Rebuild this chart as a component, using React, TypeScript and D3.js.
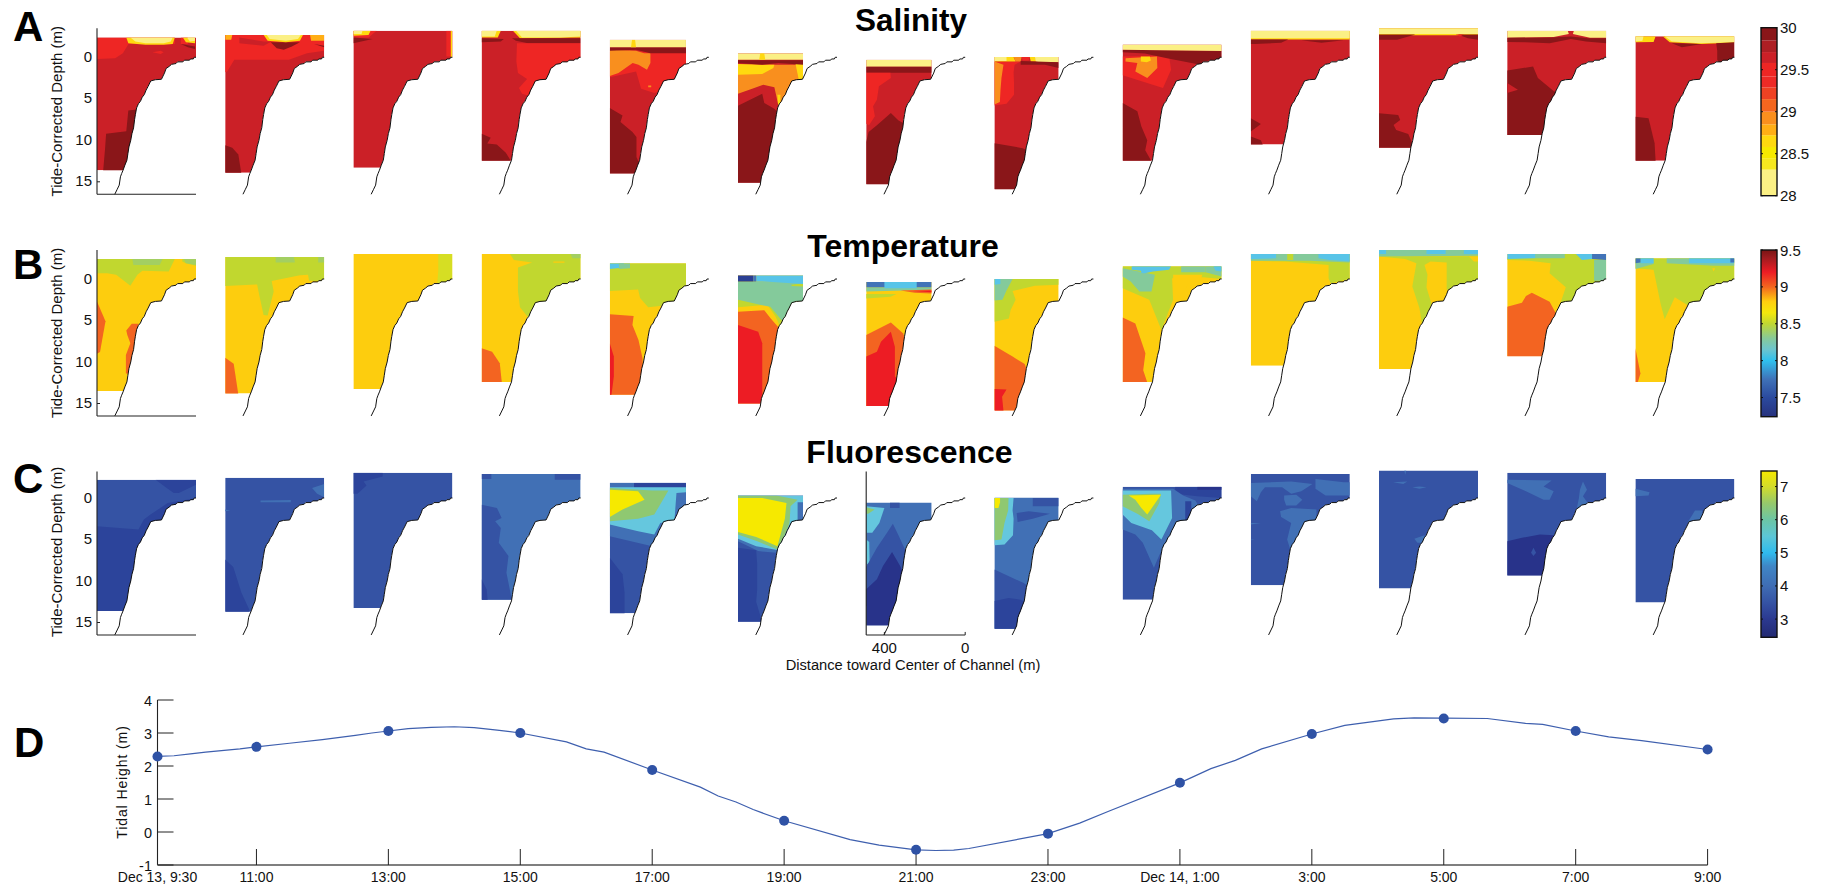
import React from "react";
import * as d3 from "d3";

type Pt = [number, number];
type Layer = [number, Pt[]];

// ---------- shared bathymetry: distance toward channel centre (m), depth (m)
const bathyDistance = [0, 9, 13, 27, 32, 57, 65, 91, 99, 121, 133, 148, 156, 171, 201, 224, 237, 247, 256, 266, 275, 285, 294, 300, 304, 309, 317, 323, 332, 337, 342, 352, 361, 368, 374, 380, 390, 402];
const bathyDepth = [0, 0, 0.2, 0.2, 0.35, 0.35, 0.55, 0.55, 0.75, 0.85, 1.1, 1.35, 1.9, 2.65, 2.7, 2.85, 3.5, 3.95, 4.5, 4.8, 5.3, 5.6, 6.1, 6.9, 7.5, 8.5, 9.2, 10, 10.8, 11.6, 12.4, 13.0, 13.6, 14.0, 14.4, 15.4, 15.9, 16.5];

// ---------- section outline per cast
const rightEdge = [0, 0, 0, 0, 113, 168, 166, 172, 0, 0, 0, 0, 0];
const salinityTop = [-2.4, -2.7, -3.2, -3.2, -2.1, -0.5, 0.3, -0.05, -1.55, -3.2, -3.5, -3.2, -2.55];
const salinityBottom = [13.6, 13.9, 13.3, 12.45, 14.0, 15.1, 15.3, 15.9, 12.45, 10.5, 10.9, 9.35, 12.45];
const temperatureTop = [-2.4, -2.65, -3, -3, -1.9, -0.45, 0.35, 0, -1.55, -3, -3.5, -3, -2.5];
const temperatureBottom = [13.5, 13.8, 13.25, 12.4, 13.95, 15, 15.3, 15.85, 12.4, 10.45, 10.85, 9.3, 12.4];
const fluorescenceTop = [-2.2, -2.45, -3.05, -2.9, -1.85, -0.3, 0.55, -0.05, -1.35, -2.9, -3.3, -3.05, -2.3];
const fluorescenceBottom = [13.6, 13.7, 13.25, 12.25, 13.9, 14.9, 15.35, 15.75, 12.25, 10.5, 10.9, 9.35, 12.6];

// ---------- salinity
const sP = 28.1, sG = 28.65, sA = 28.8, sO = 28.95, sR = 29.5, sM = 29.6, sD = 29.95;
const salinityBase = [sM, sM, sM, sM, sM, sM, sM, sM, sM, sM, sM, sM, sM];
const salinityThresholds = [28.31, 28.44, 28.58, 28.72, 28.85, 29.0, 29.15, 29.29, 29.42, 29.58, 29.71, 29.85];
const salinityColors = ["#FBF085", "#F6E81F", "#F7EA00", "#FFD90F", "#FFAE15", "#F98F1E", "#F4661F", "#EF4223", "#EE2A26", "#EE2624", "#CB2027", "#AD1F24", "#8A1619"];
const salinityLayers: Layer[][] = [
  [
    [sR, [[490, -2.4], [105, -2.4], [105, -1.6], [334, -1.6], [362, -0.5], [400, 0.1], [490, 0.2]]],
    [sR, [[75, -2.4], [40, -2.4], [40, -1.6], [75, -1.6]]],
    [sG, [[345, -2.4], [105, -2.4], [115, -1.6], [160, -1.5], [250, -1.5], [335, -1.7]]],
    [sP, [[325, -2.4], [115, -2.4], [125, -1.9], [160, -1.7], [250, -1.7], [300, -1.9]]],
    [sG, [[65, -2.4], [5, -2.4], [5, -1.7], [50, -1.8]]],
    [sP, [[45, -2.4], [5, -2.4], [5, -2.0], [30, -1.9]]],
    [sD, [[75, -1.6], [5, -1.3], [5, -1.0], [40, -1.2]]],
    [sR, [[215, -0.6], [175, -0.8], [160, -0.6], [175, -0.4]]],
    [sD, [[445, 9.2], [345, 8.9], [335, 6.4], [295, 6.3], [270, 10], [330, 13.8], [460, 13.8], [450, 11]]],
  ],
  [
    [sR, [[490, -2.7], [0, -2.7], [0, -0.8], [85, -0.5], [175, 0.3], [445, 0.3], [480, 1.7], [490, 1.8]]],
    [sM, [[420, -2.4], [300, -1.9], [260, -1.9], [300, -1.4], [420, -1.7]]],
    [sD, [[265, -1.8], [120, -1.8], [160, -1.3], [200, -0.9], [235, -1.1]]],
    [sG, [[300, -2.7], [105, -2.7], [120, -2], [190, -1.8], [280, -2]]],
    [sP, [[285, -2.7], [115, -2.7], [130, -2.2], [190, -2], [270, -2.2]]],
    [sA, [[490, -2.7], [455, -2.7], [460, -2.1], [490, -2.1]]],
    [sA, [[70, -2.7], [0, -2.7], [0, -2.0], [65, -2.0]]],
    [sD, [[50, -1.6], [0, -1.4], [0, -1.2]]],
    [sD, [[490, 10.6], [455, 10.9], [425, 11.7], [410, 14], [490, 14]]],
  ],
  [
    [sR, [[490, -3.2], [375, -3.2], [415, -2.4], [490, -2.4]]],
    [sG, [[490, -3.2], [405, -3.2], [415, -2.7], [490, -2.6]]],
    [sP, [[490, -3.2], [445, -3.2], [450, -2.8], [490, -2.8]]],
    [sD, [[490, -2.4], [395, -2.2], [490, -1.7]]],
    [sR, [[30, -3.2], [0, -3.2], [0, -0.1], [30, -0.1]]],
    [sG, [[8, -3.2], [0, -3.2], [0, 0], [8, 0]]],
  ],
  [
    [sG, [[490, -3.2], [395, -3.2], [410, -2.4], [490, -2.4]]],
    [sP, [[490, -3.2], [415, -3.2], [425, -2.5], [490, -2.5]]],
    [sG, [[335, -3.2], [0, -3.2], [0, -2.4], [300, -2.3]]],
    [sP, [[320, -3.2], [0, -3.2], [0, -2.5], [100, -2.4], [290, -2.4]]],
    [sD, [[490, -2.3], [380, -2.2], [395, -1.9], [490, -1.8]]],
    [sD, [[340, -2.3], [0, -2.3], [0, -1.7], [260, -1.7], [320, -2.0]]],
    [sR, [[315, -1.7], [0, -1.7], [0, 0.3], [100, 3.0], [260, 4.6], [290, 4.4], [305, 3.7], [265, 2.6], [310, 1.9], [318, 0.5]]],
    [sD, [[490, 9.2], [445, 9.7], [462, 10.4], [415, 10.5], [370, 11.5], [345, 12.5], [490, 12.5]]],
  ],
  [
    [sR, [[490, -0.7], [113, -0.7], [113, 1], [150, 3.5], [270, 4.3], [335, 3.8], [360, 1.7], [490, 2.4]]],
    [sO, [[490, -0.9], [360, -0.8], [320, -0.5], [289, -0.5], [289, 0.7], [306, 1.5], [348, 0.9], [377, 0.7], [447, 1.9], [490, 2.25]]],
    [sO, [[300, 3.4], [285, 3.4], [285, 3.6], [300, 3.6]]],
    [sD, [[490, -1.2], [113, -1.2], [113, -0.5], [290, -0.5], [360, -0.9], [490, -0.8]]],
    [sP, [[490, -2.1], [113, -2.1], [113, -1.2], [490, -1.2]]],
    [sG, [[380, -2.1], [365, -2.1], [360, -1.2], [385, -1.2]]],
    [sD, [[490, 6.1], [427, 7], [437, 7.8], [378, 9], [358, 9.6], [358, 12], [340, 13], [330, 14.1], [490, 14.1]]],
  ],
  [
    [sO, [[490, 0.9], [168, 0.9], [168, 2.7], [205, 2.7], [230, 4.6], [290, 5.8], [310, 3.6], [365, 3.3], [420, 3.8], [490, 4.4]]],
    [sG, [[490, 0.8], [370, 0.9], [310, 0.9], [315, 1.3], [370, 2.0], [490, 2.1]]],
    [sG, [[205, 0.8], [168, 0.8], [168, 2.6], [190, 2.6]]],
    [sG, [[295, 4.5], [280, 4.5], [280, 5.7], [292, 5.7]]],
    [sD, [[490, 0.35], [168, 0.35], [168, 0.9], [290, 0.7], [370, 0.9], [490, 0.7]]],
    [sP, [[490, -0.5], [168, -0.5], [168, 0.3], [490, 0.3]]],
    [sG, [[380, -0.5], [360, -0.5], [355, 0.3], [385, 0.3]]],
    [sD, [[490, 5.85], [370, 4.4], [360, 5.5], [310, 6.2], [290, 6.7], [200, 7], [200, 15.3], [490, 15.3]]],
  ],
  [
    [sP, [[490, 0.3], [166, 0.3], [166, 1.15], [490, 1.15]]],
    [sD, [[490, 1.15], [166, 1.15], [166, 1.85], [490, 1.85]]],
    [sR, [[490, 1.85], [370, 1.85], [368, 2.5], [427, 3.5], [437, 5.1], [456, 5.9], [447, 7.1], [476, 8.2], [490, 8]]],
    [sD, [[490, 10.2], [478, 9], [437, 8.2], [368, 6.7], [330, 7.6], [300, 8], [200, 8], [200, 15.4], [490, 15.4]]],
  ],
  [
    [sR, [[490, 0.5], [360, 0.5], [390, 0.9], [395, 1.8], [393, 3], [393, 4.5], [430, 5.6], [490, 5.8]]],
    [sO, [[490, 0.5], [445, 0.9], [455, 2.5], [460, 4], [463, 5.4], [490, 5.7]]],
    [sG, [[490, -0.05], [395, -0.05], [385, 0.5], [490, 0.5]]],
    [sP, [[490, -0.05], [430, -0.05], [430, 0.45], [490, 0.45]]],
    [sO, [[395, -0.05], [355, -0.05], [360, 0.5], [385, 0.5]]],
    [sR, [[355, -0.05], [315, -0.05], [320, 0.4], [350, 0.4]]],
    [sG, [[315, -0.05], [290, -0.05], [280, 0.5], [310, 0.5]]],
    [sP, [[290, -0.05], [172, -0.05], [172, 0.6], [270, 0.6], [285, 0.5]]],
    [sD, [[360, 0.45], [172, 0.6], [172, 1.3], [240, 0.9], [360, 0.9]]],
    [sD, [[490, 10.35], [350, 10.95], [300, 11.5], [300, 16], [490, 16]]],
  ],
  [
    [sR, [[490, -0.1], [260, -0.2], [250, 1.5], [290, 3.7], [490, 2.15]]],
    [sO, [[475, 0.1], [320, -0.1], [318, 1.3], [368, 2.5], [427, 1.7], [417, 0.7], [476, 0.5]]],
    [sG, [[400, -0.1], [355, -0.1], [350, 0.4], [370, 0.6], [400, 0.5]]],
    [sD, [[490, -0.9], [0, -0.75], [0, 0.1], [90, 0.5], [105, 0.9], [270, 0.1], [380, -0.45], [490, -0.6]]],
    [sP, [[490, -1.55], [0, -1.55], [0, -0.75], [490, -0.9]]],
    [sD, [[490, 5.5], [417, 6.5], [397, 8.35], [368, 10], [378, 11.2], [348, 12.5], [490, 12.5]]],
  ],
  [
    [sG, [[490, -3.2], [0, -3.2], [0, -2.15], [490, -2.15]]],
    [sP, [[490, -3.2], [0, -3.2], [0, -2.3], [490, -2.3]]],
    [sD, [[490, -2.15], [305, -2.15], [340, -1.75], [470, -1.6], [490, -1.6]]],
    [sD, [[240, -2.05], [30, -2.05], [140, -1.75]]],
    [sD, [[490, 7.35], [440, 8.05], [490, 8.95]]],
    [sD, [[490, 9.55], [440, 10], [430, 10.6], [490, 10.6]]],
  ],
  [
    [sG, [[490, -3.5], [0, -3.5], [0, -2.65], [490, -2.65]]],
    [sP, [[490, -3.5], [0, -3.5], [0, -2.8], [250, -2.8], [490, -2.8]]],
    [sD, [[490, -2.75], [310, -2.75], [400, -2.1], [490, -2.1]]],
    [sD, [[100, -2.75], [0, -2.75], [0, -2.1], [50, -2.3]]],
    [sR, [[110, -2.75], [90, -2.5], [70, -2.75]]],
    [sD, [[490, 6.75], [395, 6.95], [385, 7.55], [418, 8.15], [405, 8.75], [345, 9.25], [325, 10.4], [330, 11], [490, 11]]],
  ],
  [
    [sP, [[490, -3.2], [190, -3.2], [185, -2.8], [260, -2.45], [490, -2.35]]],
    [sP, [[160, -3.2], [0, -3.2], [0, -2.35], [80, -2.35], [165, -2.8]]],
    [sD, [[490, -2.35], [270, -2.4], [175, -2.5], [90, -2.3], [0, -2.3], [0, -1.7], [100, -1.9], [175, -2.2], [280, -1.7], [400, -1.8], [490, -1.85]]],
    [sD, [[490, 1.6], [362, 1.1], [338, 2.5], [259, 4.1], [200, 4.5], [200, 9.4], [490, 9.4]]],
    [sM, [[490, 3.1], [437, 3.9], [490, 4.3]]],
  ],
  [
    [sG, [[490, -2.55], [390, -2.55], [400, -1.85], [490, -1.8]]],
    [sP, [[490, -2.55], [450, -2.55], [455, -2], [490, -1.9]]],
    [sG, [[355, -2.55], [0, -2.55], [0, -1.75], [170, -1.6], [320, -1.8]]],
    [sP, [[345, -2.55], [0, -2.55], [0, -1.8], [170, -1.7], [310, -1.9]]],
    [sD, [[90, -1.7], [0, -1.8], [0, 0.7], [75, 0.7], [85, 0.3], [85, -0.8]]],
    [sD, [[310, -1.7], [160, -1.6], [260, -1.2]]],
    [sD, [[490, 7.15], [425, 7.35], [395, 10.35], [390, 12.5], [490, 12.5]]],
  ],
];

// ---------- temperature
const tN = 7.5, tB = 7.7, tC = 8, tT = 8.25, tH = 8.4, tL = 8.5, tK = 8.65, tY = 8.8, tO = 9, tR = 9.2;
const temperatureBase = [tY, tY, tY, tY, tY, tY, tY, tY, tY, tY, tY, tY, tY];
const temperatureThresholds = [7.6, 7.85, 8.1, 8.33, 8.45, 8.55, 8.72, 8.9, 9.1, 9.3];
const temperatureColors = ["#2B3F93", "#4273B8", "#58C4E8", "#84CA9B", "#A3CF62", "#C1D72F", "#D6DE23", "#FDCD0E", "#F36421", "#ED1C24", "#9C1B1F"];
const temperatureLayers: Layer[][] = [
  [
    [tL, [[490, -2.4], [105, -2.4], [135, -0.9], [265, -1], [290, -0.5], [325, 0.8], [395, -0.5], [440, -0.7], [490, -0.7]]],
    [tL, [[68, -2.4], [0, -2.4], [0, -1.6], [50, -1.9], [68, -2.1]]],
    [tH, [[315, -2.4], [165, -2.4], [180, -1.7], [310, -1.7]]],
    [tH, [[60, -2.4], [0, -2.4], [0, -1.7], [50, -1.9]]],
    [tO, [[490, 2.7], [448, 5.1], [475, 8.8], [490, 9]]],
    [tO, [[345, 6.2], [318, 5.4], [285, 5.4], [300, 8.15], [330, 11.4], [347, 11.4], [347, 9.15], [325, 7.75], [340, 6.75]]],
  ],
  [
    [tL, [[490, -2.65], [0, -2.65], [0, 0.2], [75, 0.2], [80, -0.5], [120, -0.45], [260, 0.25], [250, 1.5], [280, 4.4], [300, 4.35], [320, 2.1], [332, 0.65], [490, 0.85]]],
    [tH, [[240, -2.65], [150, -2.65], [145, -2], [240, -2]]],
    [tH, [[30, -2.65], [0, -2.65], [0, -2], [30, -2]]],
    [tO, [[490, 9.5], [448, 10.2], [425, 13.9], [490, 13.9]]],
  ],
  [
    [tK, [[70, -3], [0, -3], [0, 0.5], [75, 0.5], [70, -1]]],
  ],
  [
    [tL, [[350, -3], [0, -3], [0, 1], [100, 3], [260, 4.6], [300, 3.4], [310, 1.5], [310, -1.4], [240, -2], [330, -2.3]]],
    [tY, [[135, -2.1], [80, -2.1], [80, -1.95], [135, -1.95]]],
    [tH, [[50, -3], [0, -3], [0, -2.5], [40, -2.5]]],
    [tO, [[490, 8.35], [438, 8.75], [400, 10.15], [390, 12.45], [490, 12.45]]],
  ],
  [
    [tL, [[490, -1.9], [113, -1.9], [113, 3], [220, 3.2], [300, 3.4], [340, 2.3], [350, 1.25], [490, 1.45]]],
    [tC, [[490, -1.9], [420, -1.9], [420, -1.4], [490, -1.2]]],
    [tT, [[445, -1.9], [390, -1.9], [390, -1.3], [445, -1.2]]],
    [tO, [[490, 4.25], [372, 4.45], [378, 5.55], [348, 7.35], [328, 9.55], [320, 14], [490, 14]]],
    [tR, [[490, 7.75], [470, 9.35], [470, 11.75], [482, 14], [490, 14]]],
  ],
  [
    [tL, [[490, 0.3], [168, 0.3], [168, 3], [205, 3], [250, 5.5], [280, 5.8], [305, 4.5], [345, 3.1], [490, 3.4]]],
    [tT, [[490, 0.3], [168, 0.3], [168, 2.65], [205, 2.65], [250, 4.9], [270, 5.1], [330, 3.35], [370, 3.15], [490, 2.5]]],
    [tL, [[225, 0.7], [168, 0.5], [168, 0.9], [225, 0.85]]],
    [tO, [[490, 3.95], [360, 3.75], [328, 4.75], [285, 5.95], [200, 8], [200, 15.1], [490, 15.1]]],
    [tR, [[490, 5.55], [390, 6.35], [370, 7.75], [370, 13.8], [380, 15.1], [490, 15.1]]],
    [tC, [[400, -0.45], [168, -0.45], [168, 0.6], [320, 0.35], [375, 0.3], [400, 0.3]]],
    [tN, [[490, -0.45], [415, -0.45], [415, 0.3], [490, 0.3]]],
    [tB, [[415, -0.45], [400, -0.45], [400, 0.3], [415, 0.3]]],
  ],
  [
    [tT, [[490, 1], [166, 1], [166, 1.3], [490, 1.5]]],
    [tB, [[490, 0.35], [166, 0.35], [166, 1], [490, 1]]],
    [tC, [[400, 0.35], [240, 0.35], [240, 1.1], [400, 1.1]]],
    [tL, [[490, 1.8], [340, 1.8], [370, 2.15], [490, 2.35]]],
    [tO, [[320, 1.4], [166, 1.25], [166, 1.75], [250, 1.65]]],
    [tR, [[260, 1.45], [166, 1.4], [166, 1.6]]],
    [tO, [[490, 6.75], [368, 5.25], [308, 6.55], [250, 10], [250, 15.4], [490, 15.4]]],
    [tR, [[490, 9.35], [437, 8.75], [417, 7.55], [368, 6.35], [348, 8.15], [348, 11.75], [250, 14], [250, 15.4], [490, 15.4]]],
  ],
  [
    [tL, [[490, 0], [172, 0], [172, 0.7], [290, 0.8], [400, 1.45], [385, 2.5], [410, 3.75], [418, 4.75], [490, 5.15]]],
    [tT, [[490, 0], [400, 0], [415, 0.7], [430, 1.4], [450, 2.5], [490, 2.6]]],
    [tC, [[490, 0], [460, 0], [460, 0.6], [490, 0.7]]],
    [tO, [[490, 8.05], [400, 9.35], [340, 10.25], [300, 13], [300, 15.9], [490, 15.9]]],
    [tR, [[490, 13.25], [430, 13.3], [452, 14.2], [445, 15.9], [490, 15.9]]],
  ],
  [
    [tL, [[490, -1.55], [0, -1.55], [0, 0], [90, -0.2], [245, -0.1], [240, 2.5], [298, 6.15], [358, 2.5], [490, 1.1]]],
    [tY, [[240, -0.5], [95, -0.5], [105, 0.2], [165, 0.5], [180, 1.3], [200, 2.8], [240, 2.4], [240, -0.1]]],
    [tT, [[490, -0.3], [450, 0.3], [407, 1.5], [347, 1.5], [330, -0.5], [490, -1.3]]],
    [tT, [[200, -1.55], [80, -1.55], [80, -0.8], [200, -0.8]]],
    [tT, [[80, -1.55], [0, -1.55], [0, -0.3], [80, -0.8]]],
    [tC, [[445, -1.55], [250, -1.55], [260, -1.1], [340, -0.9], [380, -0.7], [395, -0.7], [400, -1], [445, -1.1]]],
    [tC, [[40, -1.55], [0, -1.55], [0, -0.9], [30, -1]]],
    [tO, [[490, 4.65], [427, 5.35], [377, 8.95], [388, 11], [368, 12.45], [490, 12.45]]],
  ],
  [
    [tL, [[490, -3], [0, -3], [0, 0], [95, 0.5], [105, -0.1], [105, -1.7], [320, -2.1], [490, -2.2]]],
    [tT, [[490, -3], [0, -3], [0, -2.0], [200, -2.2], [320, -2.2], [490, -2.2]]],
    [tL, [[310, -3], [280, -3], [280, -2.3], [310, -2.3]]],
    [tC, [[490, -3], [365, -3], [365, -2.5], [490, -2.4]]],
    [tC, [[155, -3], [0, -3], [0, -2.1], [100, -2.3], [155, -2.5]]],
  ],
  [
    [tL, [[490, -2.75], [0, -2.75], [0, 1.3], [155, 1.3], [155, -2.0], [235, -2.1], [265, -1.7], [250, -0.5], [255, 1], [230, 3], [275, 5.8], [290, 3.5], [325, 0.9], [305, -1.9], [360, -2.4], [490, -2.7]]],
    [tT, [[490, -3.5], [0, -3.5], [0, -2.8], [490, -2.7]]],
    [tC, [[490, -3.5], [455, -3.5], [455, -3], [490, -3]]],
    [tC, [[255, -3.5], [160, -3.5], [160, -3], [255, -3]]],
    [tC, [[70, -3.5], [0, -3.5], [0, -3], [70, -3]]],
    [tY, [[45, -2.7], [0, -2.7], [0, -2.1], [20, -2.1]]],
  ],
  [
    [tL, [[400, -3], [0, -3], [0, 1], [150, 3], [235, 3.5], [200, 1], [280, -0.7], [275, -1.9], [380, -2.2], [490, -2.3], [490, -2.6]]],
    [tT, [[350, -3], [205, -3], [205, -2.5], [350, -2.5]]],
    [tT, [[60, -2.3], [0, -2.3], [0, 0.2], [60, 0.2]]],
    [tC, [[490, -3], [350, -3], [350, -2.5], [490, -2.4]]],
    [tC, [[150, -3], [70, -3], [70, -2.4], [120, -2.3]]],
    [tB, [[70, -3], [0, -3], [0, -2.3], [70, -2.4]]],
    [tO, [[490, 3.35], [417, 2.85], [397, 2.05], [368, 1.65], [280, 2.75], [250, 4.1], [200, 5], [200, 9.4], [490, 9.4]]],
  ],
  [
    [tL, [[490, -2.5], [0, -2.5], [0, 1], [170, 3], [225, 3.25], [295, 2.2], [345, 4.85], [365, 3], [400, -1.1], [490, -1.3]]],
    [tT, [[490, -2.5], [400, -2.5], [400, -1.8], [490, -1.2]]],
    [tC, [[465, -2.5], [400, -2.5], [400, -1.9], [465, -1.9]]],
    [tB, [[490, -2.5], [465, -2.5], [465, -2], [490, -1.9]]],
    [tT, [[335, -2.5], [0, -2.5], [0, -1.6], [100, -1.6], [335, -1.9]]],
    [tC, [[225, -2.5], [0, -2.5], [0, -1.9], [225, -1.9]]],
    [tB, [[20, -2.5], [0, -2.5], [0, -2], [20, -2]]],
    [tY, [[110, -1.3], [95, -1.3], [103, -0.9]]],
    [tO, [[490, 8.35], [465, 11.4], [478, 12.4], [490, 12.4]]],
  ],
];

// ---------- fluorescence
const fV = 2.8, fD = 3.2, fM = 3.7, fL = 4.3, fC = 5.3, fG = 6.3, fY = 7.2;
const fluorescenceBase = [fM, fM, fM, fL, fM, fM, fL, fL, fM, fM, fM, fM, fM];
const fluorescenceThresholds = [3.0, 3.45, 4.0, 4.7, 5.8, 6.8];
const fluorescenceColors = ["#28338A", "#2C449B", "#3553A4", "#4170B5", "#65C7DE", "#8FC871", "#F6E900"];
const fluorescenceLayers: Layer[][] = [
  [
    [fD, [[490, 3.4], [285, 3.8], [258, 2.6], [225, 2], [140, 0.6], [0, 0], [0, 14], [490, 14]]],
    [fD, [[200, -2.2], [0, -2.2], [0, -1.6], [85, -0.6], [110, -0.6], [150, -1.3]]],
  ],
  [
    [fD, [[490, 7.4], [450, 8.3], [410, 11.4], [370, 13.5], [370, 14], [490, 14]]],
    [fL, [[60, -1.2], [0, -1.7], [0, -0.1], [35, -0.5]]],
    [fL, [[315, 0.3], [165, 0.25], [165, 0.5], [315, 0.5]]],
    [fL, [[490, 1.4], [465, 1.5], [490, 1.6]]],
  ],
  [
    [fD, [[490, -3.05], [345, -3.05], [345, -2.6], [440, -2], [425, -1.5], [470, -0.5], [490, -0.5]]],
  ],
  [
    [fM, [[490, -2.9], [442, -2.9], [442, -2.3], [490, -2.3]]],
    [fM, [[128, -2.9], [0, -2.9], [0, -2.2], [128, -2.2]]],
    [fM, [[490, 0.8], [414, 1.2], [391, 2.4], [423, 2.8], [395, 3.6], [405, 5.4], [357, 7], [367, 9], [340, 12.3], [490, 12.3]]],
    [fD, [[490, 9.8], [465, 11], [460, 12.3], [490, 12.3]]],
  ],
  [
    [fD, [[370, -1.85], [113, -1.85], [113, -1.2], [370, -1.3]]],
    [fL, [[490, -1.85], [370, -1.85], [370, -1.2], [113, -1.2], [113, 0.8], [200, 3], [230, 4.4], [280, 5.8], [490, 4.6]]],
    [fC, [[490, -1.3], [113, -1.3], [113, -0.7], [160, -0.6], [170, 2.7], [240, 3], [270, 4.4], [350, 4], [490, 3.2]]],
    [fG, [[490, -1.2], [280, -0.9], [200, -0.9], [270, 2], [350, 2.5], [490, 2.8]]],
    [fY, [[490, -1], [350, -0.8], [318, 0.2], [427, 1.4], [490, 2.3]]],
    [fD, [[490, 7.2], [427, 9.2], [417, 11.4], [417, 14], [490, 14]]],
  ],
  [
    [fL, [[490, -0.3], [168, -0.3], [168, 3], [205, 3], [250, 6], [300, 6.6], [390, 6.4], [490, 5.2]]],
    [fC, [[490, -0.3], [168, -0.3], [168, 0.5], [195, 0.5], [195, 3], [230, 3], [290, 6.3], [400, 5.8], [490, 4.9]]],
    [fG, [[490, -0.3], [300, -0.3], [195, 0.2], [230, 1], [235, 3], [250, 4], [295, 6.2], [395, 5.2], [490, 4.4]]],
    [fY, [[490, 0], [370, 0], [250, 0.6], [258, 2.5], [295, 5.8], [400, 4.7], [490, 4.1]]],
    [fD, [[490, 6], [400, 6.3], [395, 8], [395, 11], [400, 12.5], [370, 15], [490, 15]]],
  ],
  [
    [fM, [[372, 0.55], [325, 0.55], [325, 1.2], [372, 1.2]]],
    [fC, [[490, 1], [400, 1.2], [425, 3], [460, 4.2], [490, 4.2]]],
    [fC, [[490, 5], [475, 5.3], [473, 7.8], [490, 8]]],
    [fG, [[490, 1.1], [448, 1.4], [480, 1.9], [490, 1.9]]],
    [fM, [[490, 8.3], [437, 6], [387, 4.2], [358, 3.1], [328, 4.6], [298, 6.2], [250, 8], [250, 13], [490, 13]]],
    [fV, [[490, 11], [437, 9.8], [407, 8.2], [362, 6.5], [322, 8.2], [250, 12], [250, 15.4], [490, 15.4]]],
  ],
  [
    [fC, [[490, 0], [395, 0], [400, 1.5], [395, 2.5], [398, 4.5], [440, 5.6], [490, 5.7]]],
    [fG, [[490, 0], [420, 0], [422, 1.5], [440, 3], [455, 5], [490, 5.1]]],
    [fY, [[490, 0], [462, 0], [462, 0.5], [470, 1.2], [490, 1.2]]],
    [fM, [[300, 0], [172, 0], [172, 1], [300, 1]]],
    [fM, [[380, 1.8], [320, 1.6], [215, 1.9], [300, 2.5], [375, 2.9]]],
    [fM, [[490, 8.6], [345, 10.25], [300, 11], [300, 15.8], [490, 15.8]]],
    [fD, [[490, 12.4], [420, 12.05], [360, 12.25], [300, 13], [300, 15.8], [490, 15.8]]],
  ],
  [
    [fD, [[230, -1.35], [0, -1.35], [0, 0], [120, -0.2], [230, -0.5]]],
    [fV, [[120, -1.35], [0, -1.35], [0, -1], [120, -1]]],
    [fL, [[490, -1.1], [240, -1.1], [190, -0.3], [130, 0.3], [100, 1.5], [175, 3], [190, 3.6], [290, 6], [310, 7], [335, 8.4], [390, 5.4], [427, 4.4], [490, 3.8]]],
    [fD, [[180, 0.4], [150, 0.4], [150, 2.9], [180, 2.9]]],
    [fC, [[490, -0.9], [250, -0.9], [245, 2.4], [298, 5], [345, 3.9], [447, 3], [490, 2]]],
    [fG, [[490, -0.4], [350, -0.5], [300, -0.5], [308, 0.6], [358, 2.8], [417, 1.9], [490, 1]]],
    [fY, [[460, -0.3], [300, -0.4], [368, 2], [397, 1.2], [427, 0.2]]],
  ],
  [
    [fL, [[490, -1.8], [290, -2], [185, -1.7], [240, -0.8], [290, -0.5], [335, -1.3], [420, -1.3], [440, -0.7], [460, 0.4], [490, -0.2]]],
    [fL, [[170, -2.3], [30, -1.9], [0, -1.9], [0, -0.3], [60, -0.3], [120, -0.3], [170, -1.1]]],
    [fL, [[325, -0.3], [265, -0.4], [235, 0.2], [265, 0.9], [315, 0.9], [325, 0.2]]],
    [fL, [[345, 1.6], [290, 1.2], [165, 1.4], [165, 2.8], [225, 3], [265, 5], [295, 6.2], [310, 5], [290, 3], [340, 2.3]]],
    [fL, [[490, 3], [440, 3], [490, 3.2]]],
    [fL, [[490, 5], [470, 5], [490, 5.1]]],
  ],
  [
    [fL, [[420, -1.9], [350, -2], [370, -1.7]]],
    [fL, [[325, -1.3], [290, -1.4], [255, -1.3], [290, -1.1]]],
    [fL, [[365, -3.3], [355, -3.3], [360, -2.8]]],
    [fL, [[315, 4.9], [265, 4.5], [260, 5.4], [300, 5.4]]],
  ],
  [
    [fL, [[490, -2.2], [270, -2.1], [310, -1.4], [260, -0.8], [280, 0.2], [310, 0.2], [397, -0.8], [490, -1.8]]],
    [fL, [[115, -2], [95, -1], [115, -0.2], [85, 0.8], [145, 1.2], [135, 0], [130, -1]]],
    [fV, [[490, 5.2], [417, 4.8], [328, 4.4], [259, 4.5], [200, 7], [200, 9.4], [490, 9.4]]],
    [fM, [[360, 6], [347, 6.6], [360, 7], [372, 6.6]]],
  ],
  [
    [fL, [[490, -1.1], [420, -0.7], [425, -0.3], [490, -0.2]]],
    [fL, [[195, 1.5], [160, 1.5], [160, 2.9], [230, 2.9]]],
  ],
];

// ---------- tide
const castHours = [9.5, 11, 13, 15, 17, 19, 21, 23, 25, 27, 29, 31, 33];
const castHeights = [2.29, 2.58, 3.06, 3.0, 1.88, 0.34, -0.54, -0.05, 1.49, 2.97, 3.44, 3.06, 2.5];
const tideHours = [9.5, 9.75, 10, 10.23, 10.75, 11, 11.5, 12, 12.5, 12.75, 13, 13.3, 13.65, 14, 14.3, 14.65, 15, 15.7, 16, 16.27, 17, 17.73, 18, 18.27, 18.53, 19, 20, 20.44, 21, 21.3, 21.57, 21.8, 23, 23.48, 23.92, 25, 25.47, 25.84, 26.24, 27, 27.5, 28.24, 28.55, 29, 29.66, 30.24, 30.5, 31, 31.5, 32, 33];
const tideMetres = [2.29, 2.31, 2.37, 2.42, 2.52, 2.58, 2.69, 2.8, 2.93, 3.0, 3.06, 3.13, 3.17, 3.19, 3.16, 3.09, 3.0, 2.73, 2.52, 2.42, 1.88, 1.36, 1.09, 0.91, 0.68, 0.34, -0.23, -0.4, -0.54, -0.56, -0.55, -0.5, -0.05, 0.27, 0.63, 1.49, 1.92, 2.17, 2.52, 2.97, 3.23, 3.43, 3.46, 3.45, 3.44, 3.29, 3.26, 3.06, 2.88, 2.77, 2.5];
const tideTickHours = [9.5, 11, 13, 15, 17, 19, 21, 23, 25, 27, 29, 31, 33];
const tideTickLabels = ["Dec 13, 9:30", "11:00", "13:00", "15:00", "17:00", "19:00", "21:00", "23:00", "Dec 14, 1:00", "3:00", "5:00", "7:00", "9:00"];
const tideYTicks = [4, 3, 2, 1, 0, -1];

// ---------- colour bars
const salinityBarTicks = [28, 28.5, 29, 29.5, 30];
const temperatureBarTicks = [7.5, 8, 8.5, 9, 9.5];
const temperatureStops = [7.24, 7.5, 7.75, 8, 8.15, 8.3, 8.5, 8.65, 8.8, 9, 9.2, 9.4, 9.5];
const temperatureStopColors = ["#27327E", "#2B4A9E", "#3F72B8", "#2FC0EE", "#6CC5CF", "#86C99A", "#C0D732", "#F4E80C", "#FFCF0F", "#F4661F", "#ED1C24", "#9C1B1F", "#7A1414"];
const fluorescenceBarTicks = [3, 4, 5, 6, 7];
const fluorescenceStops = [2.45, 3, 3.5, 4, 4.6, 5, 5.5, 6, 6.5, 7, 7.47];
const fluorescenceStopColors = ["#232A72", "#2B3990", "#3553A4", "#3F6DB4", "#3F86C6", "#2FBBEE", "#5CC6D6", "#6CC5A5", "#96C96B", "#D3DC2A", "#F6E900"];
const depthTicks = [0, 5, 10, 15];
const distanceTicks = [400, 0];

// ---------- layout
const FONT = "'Liberation Sans', Arial, sans-serif";
const COLUMN_X0 = 97, COLUMN_STEP = 128.2, PANEL_W = 99;
const DIST_MAX = 490, Z_PER_PX = 8.3;
const bathyAt = d3.scaleLinear<number>().domain(bathyDistance).range(bathyDepth).clamp(true);

function sectionOutline(top: number, bottom: number, right: number): Pt[] {
  const pts: Pt[] = [[DIST_MAX, top], [right, top], [right, bathyAt(right)]];
  bathyDistance.forEach((d, i) => {
    if (d > right && bathyDepth[i] < bottom) pts.push([d, bathyDepth[i]]);
  });
  let endD = 0;
  for (let i = 1; i < bathyDepth.length; i++) {
    if (bathyDepth[i] >= bottom) {
      const t = (bottom - bathyDepth[i - 1]) / (bathyDepth[i] - bathyDepth[i - 1]);
      endD = bathyDistance[i - 1] + t * (bathyDistance[i] - bathyDistance[i - 1]);
      break;
    }
  }
  pts.push([endD, bottom], [DIST_MAX, bottom]);
  return pts;
}

interface RowProps {
  id: string;
  zero: number;
  axisTop: number;
  top: number[];
  bottom: number[];
  base: number[];
  layers: Layer[][];
  color: (v: number) => string;
  showDistance?: boolean;
}

function Row({ id, zero, axisTop, top, bottom, base, layers, color, showDistance }: RowProps) {
  const y = d3.scaleLinear().domain([0, 16.5]).range([zero, zero + 16.5 * Z_PER_PX]);
  return (
    <g>
      {top.map((t, i) => {
        const left = COLUMN_X0 + COLUMN_STEP * i;
        const x = d3.scaleLinear().domain([DIST_MAX, 0]).range([left, left + PANEL_W]);
        const path = d3.line<Pt>().x((p) => x(p[0])).y((p) => y(p[1]));
        const outline = sectionOutline(t, bottom[i], rightEdge[i]);
        const bathy = d3.zip(bathyDistance, bathyDepth) as unknown as Pt[];
        const clipId = `${id}-${i}`;
        const hasAxis = i === 0 || (showDistance && i === 6);
        return (
          <g key={i}>
            {i === 0 &&
              depthTicks.map((d) => (
                <line key={d} x1={left} x2={left + 3} y1={y(d)} y2={y(d)} stroke="#222" />
              ))}
            <clipPath id={clipId}>
              <path d={path(outline)! + "Z"} />
            </clipPath>
            <g clipPath={`url(#${clipId})`}>
              <path d={path(outline)! + "Z"} fill={color(base[i])} />
              {layers[i].map(([v, pts], j) => (
                <path key={j} d={path(pts)! + "Z"} fill={color(v)} />
              ))}
            </g>
            <path d={path(bathy)!} fill="none" stroke="#111" strokeWidth={1} />
            {hasAxis && (
              <g stroke="#222" strokeWidth={1.1}>
                <line x1={left} x2={left} y1={y(axisTop)} y2={y(16.5)} />
                <line x1={left} x2={left + PANEL_W} y1={y(16.5)} y2={y(16.5)} />
              </g>
            )}
            {i === 0 &&
              depthTicks.map((d) => (
                <text key={d} x={92} y={y(d) + 4.5} textAnchor="end" fontFamily={FONT} fontSize={15} fill="#111">{d}</text>
              ))}
            {i === 0 && (
              <text transform={`translate(62,${y(6.5)}) rotate(-90)`} textAnchor="middle" fontFamily={FONT} fontSize={15} fill="#111">
                Tide-Corrected Depth (m)
              </text>
            )}
            {showDistance && i === 6 && (
              <g>
                {distanceTicks.map((d) => (
                  <g key={d}>
                    <line x1={x(d)} x2={x(d)} y1={y(16.5)} y2={y(16.5) - 3} stroke="#222" />
                    <text x={x(d)} y={653} textAnchor="middle" fontFamily={FONT} fontSize={15} fill="#111">{d}</text>
                  </g>
                ))}
                <text x={913} y={670} textAnchor="middle" fontFamily={FONT} fontSize={14.7} fill="#111">
                  Distance toward Center of Channel (m)
                </text>
              </g>
            )}
          </g>
        );
      })}
    </g>
  );
}

function BarFrame({ y, ticks, x0, x1 }: { y: d3.ScaleLinear<number, number>; ticks: number[]; x0: number; x1: number }) {
  const [bottom, top] = y.range();
  return (
    <g>
      <rect x={x0} y={top} width={x1 - x0} height={bottom - top} fill="none" stroke="#111" strokeWidth={1.4} />
      {ticks.map((t) => (
        <g key={t}>
          <line x1={x0} x2={x0 + 2} y1={y(t)} y2={y(t)} stroke="#111" />
          <line x1={x1} x2={x1 - 2} y1={y(t)} y2={y(t)} stroke="#111" />
          <text x={x1 + 3} y={y(t) + 5.5} fontFamily={FONT} fontSize={15} fill="#111">{t}</text>
        </g>
      ))}
    </g>
  );
}

export default function App() {
  const salColor = d3.scaleThreshold<number, string>().domain(salinityThresholds).range(salinityColors);
  const tempColor = d3.scaleThreshold<number, string>().domain(temperatureThresholds).range(temperatureColors);
  const fluColor = d3.scaleThreshold<number, string>().domain(fluorescenceThresholds).range(fluorescenceColors);

  const barX0 = 1761, barX1 = 1777;
  const salBar = d3.scaleLinear().domain([28, 30]).range([195.7, 27.7]);
  const tempBar = d3.scaleLinear().domain([7.24, 9.5]).range([416.7, 250]);
  const fluBar = d3.scaleLinear().domain([2.45, 7.47]).range([637.3, 471]);

  const salEdges = [28, ...salinityThresholds, 30];

  const tx = d3.scaleLinear().domain([9.5, 33]).range([157.5, 1707.6]);
  const ty = d3.scaleLinear().domain([-1, 4]).range([865, 700]);
  const tideLine = d3.line<number>().x((_, i) => tx(tideHours[i])).y((v) => ty(v));

  return (
    <svg width={1830} height={889} viewBox="0 0 1830 889" style={{ position: "absolute", left: 0, top: 0, display: "block", background: "#fff" }}>
      <defs>
        <linearGradient id="tempGrad" x1="0" y1="1" x2="0" y2="0">
          {temperatureStops.map((s, i) => (
            <stop key={i} offset={(s - 7.24) / (9.5 - 7.24)} stopColor={temperatureStopColors[i]} />
          ))}
        </linearGradient>
        <linearGradient id="fluGrad" x1="0" y1="1" x2="0" y2="0">
          {fluorescenceStops.map((s, i) => (
            <stop key={i} offset={(s - 2.45) / (7.47 - 2.45)} stopColor={fluorescenceStopColors[i]} />
          ))}
        </linearGradient>
      </defs>

      <Row id="sal" zero={57.3} axisTop={-3.5} top={salinityTop} bottom={salinityBottom} base={salinityBase} layers={salinityLayers} color={salColor} />
      <Row id="tmp" zero={279} axisTop={-3.5} top={temperatureTop} bottom={temperatureBottom} base={temperatureBase} layers={temperatureLayers} color={tempColor} />
      <Row id="flu" zero={498} axisTop={-3.2} top={fluorescenceTop} bottom={fluorescenceBottom} base={fluorescenceBase} layers={fluorescenceLayers} color={fluColor} showDistance />

      {/* titles and panel letters */}
      <g fontFamily={FONT} fontWeight="bold" fill="#000" textAnchor="middle">
        <text x={911} y={31} fontSize={31.5}>Salinity</text>
        <text x={903} y={257} fontSize={32}>Temperature</text>
        <text x={909.5} y={463} fontSize={32}>Fluorescence</text>
      </g>
      <g fontFamily={FONT} fontWeight="bold" fill="#000" fontSize={42}>
        <text x={13} y={41}>A</text>
        <text x={13} y={279}>B</text>
        <text x={13} y={493}>C</text>
        <text x={14} y={757}>D</text>
      </g>

      {/* colour bars */}
      {salEdges.slice(0, -1).map((e, i) => (
        <rect key={i} x={barX0} width={barX1 - barX0} y={salBar(salEdges[i + 1])} height={salBar(e) - salBar(salEdges[i + 1])} fill={salinityColors[i]} />
      ))}
      <BarFrame y={salBar} ticks={salinityBarTicks} x0={barX0} x1={barX1} />
      <rect x={barX0} width={barX1 - barX0} y={250} height={166.7} fill="url(#tempGrad)" />
      <BarFrame y={tempBar} ticks={temperatureBarTicks} x0={barX0} x1={barX1} />
      <rect x={barX0} width={barX1 - barX0} y={471} height={166.3} fill="url(#fluGrad)" />
      <BarFrame y={fluBar} ticks={fluorescenceBarTicks} x0={barX0} x1={barX1} />

      {/* tide panel */}
      <line x1={tx(9.5)} x2={tx(9.5)} y1={ty(4)} y2={ty(-1)} stroke="#222" strokeWidth={1.1} />
      <line x1={tx(9.5)} x2={tx(33)} y1={ty(-1)} y2={ty(-1)} stroke="#555" strokeWidth={1.6} />
      {tideYTicks.map((t) => (
        <g key={t}>
          <line x1={tx(9.5)} x2={tx(9.5) + 16} y1={ty(t)} y2={ty(t)} stroke="#222" />
          <text x={152} y={ty(t) + 5.5} textAnchor="end" fontFamily={FONT} fontSize={14.5} fill="#111">{t}</text>
        </g>
      ))}
      {tideTickHours.map((h, i) => (
        <g key={i}>
          {i > 0 && <line x1={tx(h)} x2={tx(h)} y1={ty(-1)} y2={ty(-1) - 16} stroke="#222" />}
          <text x={tx(h)} y={882} textAnchor="middle" fontFamily={FONT} fontSize={14} fill="#111">{tideTickLabels[i]}</text>
        </g>
      ))}
      <text transform={`translate(127,782) rotate(-90)`} textAnchor="middle" fontFamily={FONT} fontSize={14} letterSpacing={0.9} fill="#111">
        Tidal Height (m)
      </text>
      <path d={tideLine(tideMetres)!} fill="none" stroke="#3E5FAE" strokeWidth={1.2} />
      {castHours.map((h, i) => (
        <circle key={i} cx={tx(h)} cy={ty(castHeights[i])} r={5} fill="#2F52A5" />
      ))}
    </svg>
  );
}
